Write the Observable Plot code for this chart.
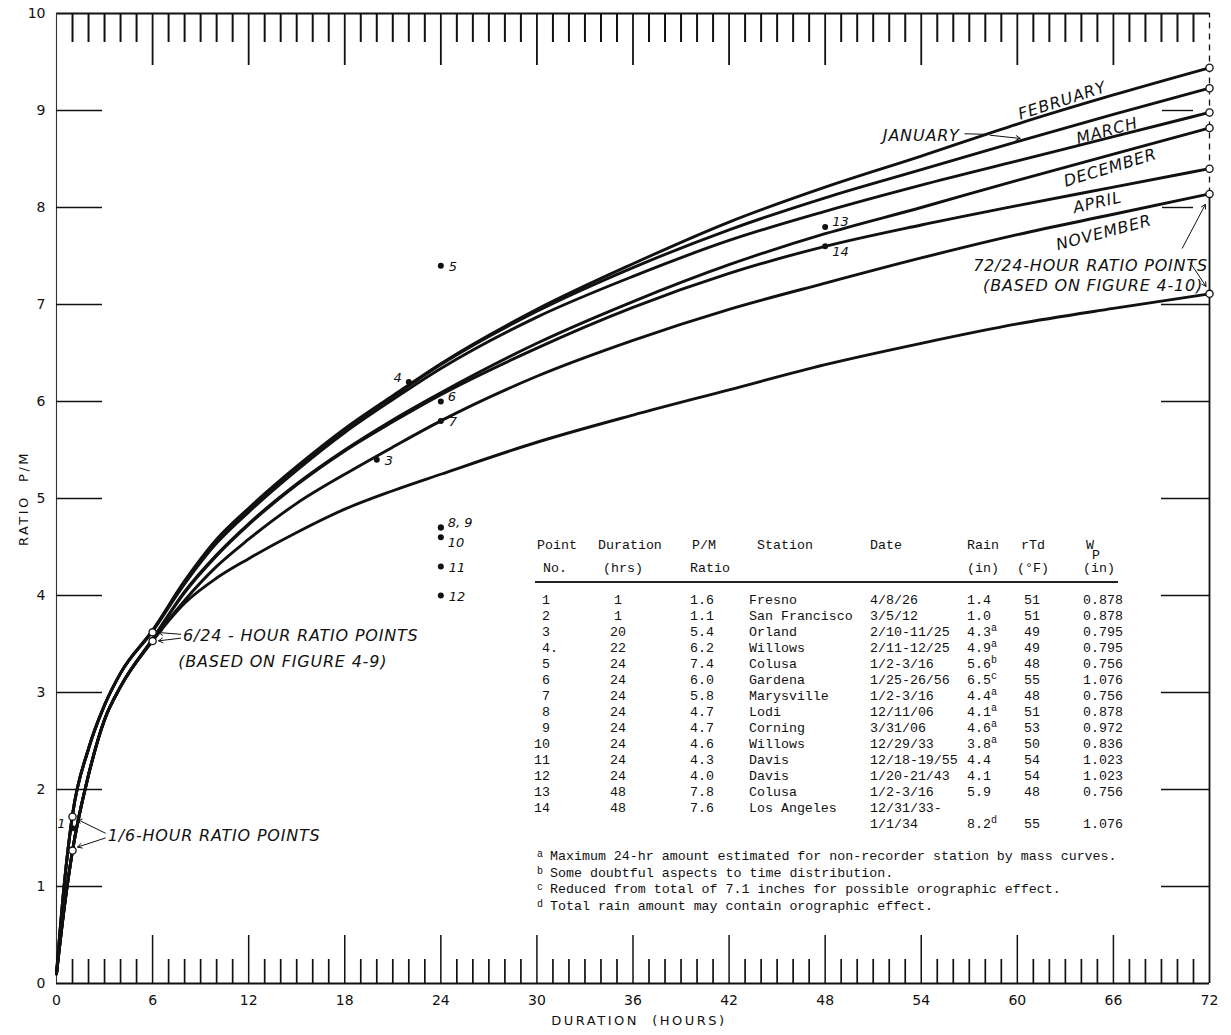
<!DOCTYPE html>
<html><head><meta charset="utf-8">
<script src="https://cdn.jsdelivr.net/npm/d3@7"></script>
<script src="https://cdn.jsdelivr.net/npm/@observablehq/plot@0.6"></script>
<style>
body{margin:0;background:#fff;}
#wrap{position:relative;width:1231px;height:1035px;overflow:hidden;}
.t{position:absolute;font-family:"Liberation Mono",monospace;font-size:13.3px;line-height:1;white-space:pre;color:#111;}
.sup{font-size:10px;position:relative;top:-5px;}
</style></head>
<body><div id="wrap"></div>
<script>
// ---------- data ----------
const hours = [0,0.5,1,2,3,4,6,8,10,12,15,18,21,24,30,36,42,48,54,60,66,72];
const curve1 = [0.1,1.05,1.74,2.42,2.87,3.2,3.64,4.15,4.58,4.9,5.33,5.72,6.06,6.39,6.95,7.42,7.85,8.21,8.53,8.86,9.16,9.44];
const curve2 = [0.1,1.05,1.74,2.42,2.87,3.2,3.64,4.14,4.57,4.89,5.32,5.71,6.05,6.38,6.93,7.38,7.77,8.10,8.39,8.68,8.96,9.23];
const curve3 = [0.1,1.05,1.74,2.42,2.87,3.2,3.63,4.12,4.54,4.86,5.29,5.68,6.02,6.34,6.87,7.29,7.66,7.96,8.23,8.48,8.73,8.98];
const curve4 = [0.1,0.8,1.37,2.15,2.72,3.06,3.55,4.04,4.42,4.74,5.15,5.50,5.81,6.09,6.6,7.03,7.41,7.73,8.0,8.28,8.55,8.82];
const curve5 = [0.1,0.8,1.37,2.15,2.72,3.06,3.55,4.03,4.41,4.73,5.14,5.49,5.79,6.07,6.55,6.97,7.32,7.6,7.82,8.02,8.21,8.40];
const curve6 = [0.1,0.8,1.37,2.15,2.72,3.06,3.54,3.95,4.3,4.58,4.95,5.25,5.53,5.8,6.26,6.63,6.95,7.22,7.48,7.72,7.93,8.14];
const curve7 = [0.1,0.8,1.37,2.15,2.72,3.06,3.53,3.92,4.18,4.38,4.65,4.89,5.08,5.25,5.58,5.86,6.12,6.38,6.6,6.8,6.96,7.11];
const curves = [curve1,curve2,curve3,curve4,curve5,curve6,curve7];

// open circles (ratio points)
const ratioPtHours = [72,72,72,72,72,72,72,6,6,1,1];
const ratioPtValues = [9.44,9.23,8.98,8.82,8.40,8.14,7.11,3.62,3.53,1.72,1.37];

// observed storms (table)
const pointNo   = ["1","2","3","4.","5","6","7","8","9","10","11","12","13","14"];
const duration  = [1,1,20,22,24,24,24,24,24,24,24,24,48,48];
const pmRatio   = ["1.6","1.1","5.4","6.2","7.4","6.0","5.8","4.7","4.7","4.6","4.3","4.0","7.8","7.6"];
const station   = ["Fresno","San Francisco","Orland","Willows","Colusa","Gardena","Marysville","Lodi","Corning","Willows","Davis","Davis","Colusa","Los Angeles"];
const dates     = ["4/8/26","3/5/12","2/10-11/25","2/11-12/25","1/2-3/16","1/25-26/56","1/2-3/16","12/11/06","3/31/06","12/29/33","12/18-19/55","1/20-21/43","1/2-3/16","12/31/33-"];
const rain      = ["1.4","1.0","4.3","4.9","5.6","6.5","4.4","4.1","4.6","3.8","4.4","4.1","5.9","8.2"];
const rainNote  = ["","","a","a","b","c","a","a","a","a","","","","d"];
const rTd       = ["51","51","49","49","48","55","48","51","53","50","54","54","48","55"];
const wp        = ["0.878","0.878","0.795","0.795","0.756","1.076","0.756","0.878","0.972","0.836","1.023","1.023","0.756","1.076"];
const plotLabels = ["1","","3","4","5","6","7","8, 9","","10","11","12","13","14"];
const footnotes = [
  ["a","Maximum 24-hr amount estimated for non-recorder station by mass curves."],
  ["b","Some doubtful aspects to time distribution."],
  ["c","Reduced from total of 7.1 inches for possible orographic effect."],
  ["d","Total rain amount may contain orographic effect."]
];

const xTickLabels = [0,6,12,18,24,30,36,42,48,54,60,66,72];
const yTickLabels = [0,1,2,3,4,5,6,7,8,9,10];

// curve annotations
const annotations = [
  {text:"FEBRUARY", hour:62.8, ratio:9.10, angle:-18},
  {text:"MARCH", hour:65.6, ratio:8.79, angle:-15},
  {text:"DECEMBER", hour:65.8, ratio:8.41, angle:-17},
  {text:"APRIL", hour:65.0, ratio:8.05, angle:-13},
  {text:"NOVEMBER", hour:65.4, ratio:7.74, angle:-15},
  {text:"JANUARY", hour:54.0, ratio:8.74, angle:0}
];
const notesEnd = [
  {text:"72/24-HOUR RATIO POINTS", hour:71.9, ratio:7.40},
  {text:"(BASED ON FIGURE 4-10)", hour:71.6, ratio:7.19}
];
const notesStart = [
  {text:"6/24 - HOUR RATIO POINTS", hour:7.9, ratio:3.58},
  {text:"(BASED ON FIGURE 4-9)", hour:7.6, ratio:3.32},
  {text:"1/6-HOUR RATIO POINTS", hour:3.2, ratio:1.52}
];
const arrows = [
  {x1:3.05,y1:1.55,x2:1.2,y2:1.70},
  {x1:3.05,y1:1.50,x2:1.2,y2:1.40},
  {x1:7.75,y1:3.60,x2:6.25,y2:3.62},
  {x1:7.75,y1:3.56,x2:6.25,y2:3.53},
  {x1:58.3,y1:8.745,x2:60.3,y2:8.71},
  {x1:70.3,y1:7.58,x2:71.8,y2:8.05},
  {x1:70.8,y1:7.43,x2:71.85,y2:7.17}
];
const leaders = [{x1:56.7,y1:8.76,x2:57.9,y2:8.755}];

// ---------- build ----------
const W = 1231, H = 1035, mL = 56, mR = 22, mT = 13, mB = 52;
const innerW = W - mL - mR, innerH = H - mT - mB;

const curveRows = [];
curves.forEach((vals, i) => vals.forEach((v, j) => curveRows.push({curve: i, hour: hours[j], ratio: v})));
const ratioPts = ratioPtHours.map((h, i) => ({hour: h, ratio: ratioPtValues[i]}));
const obs = pointNo.map((n, i) => ({no: n, hour: duration[i], ratio: +pmRatio[i], label: plotLabels[i]}))
  .filter(d => d.no !== "2");

const leftLab = ["1","4"], upLab = ["6","13","8, 9"], downLab = ["14","10"];
const rightLab = obs.filter(d => d.label && !leftLab.includes(d.label) && !upLab.includes(d.label) && !downLab.includes(d.label));

const allHours = d3.range(1, 72);
const majorHours = allHours.filter(h => h % 6 === 0);
const minorHours = allHours.filter(h => h % 6 !== 0);
const innerY = d3.range(1, 10);
const rightFull = innerY.filter(v => v < 8), rightShort = innerY.filter(v => v >= 8);
const xDomain = [0, 72], yDomain = [0, 10];
const solidRightTop = ratioPtValues[5];

const ink = "#111";
const plot = Plot.plot({
  width: W, height: H,
  marginLeft: mL, marginRight: mR, marginTop: mT, marginBottom: mB,
  style: {fontFamily: "DejaVu Sans, sans-serif", fontSize: "14px", color: ink, background: "white"},
  x: {domain: xDomain, ticks: xTickLabels, tickSize: 0, tickPadding: 12, label: null},
  y: {domain: yDomain, ticks: yTickLabels, tickSize: 0, tickPadding: 11, label: "RATIO  P/M", labelAnchor: "center", labelOffset: 38, labelArrow: false},
  marks: [
    // frame pieces
    Plot.ruleY([yDomain[1]], {stroke: ink, strokeWidth: 2}),
    Plot.ruleY([yDomain[0]], {stroke: ink, strokeWidth: 1.8}),
    Plot.ruleX([xDomain[0]], {stroke: "#333", strokeWidth: 1.1}),
    Plot.ruleX([xDomain[1]], {y1: yDomain[0], y2: solidRightTop, stroke: ink, strokeWidth: 1.8}),
    Plot.ruleX([xDomain[1]], {y1: solidRightTop, y2: yDomain[1], stroke: ink, strokeWidth: 1.3, strokeDasharray: "6,5"}),
    Plot.tickX(minorHours, {x: d => d, insetBottom: innerH - 29, stroke: ink, strokeWidth: 2}),
    Plot.tickX(majorHours, {x: d => d, insetBottom: innerH - 52, stroke: ink, strokeWidth: 1.8}),
    Plot.tickX(minorHours, {x: d => d, insetTop: innerH - 24, stroke: ink, strokeWidth: 1.7}),
    Plot.tickX(majorHours, {x: d => d, insetTop: innerH - 48, stroke: ink, strokeWidth: 1.5}),
    Plot.tickY(innerY, {y: d => d, insetRight: innerW - 46, stroke: ink, strokeWidth: 1.4}),
    Plot.tickY(rightFull, {y: d => d, insetLeft: innerW - 48, stroke: ink, strokeWidth: 1.4}),
    Plot.tickY(rightShort, {y: d => d, insetLeft: innerW - 47, insetRight: 16, stroke: ink, strokeWidth: 1.4}),
    Plot.line(curveRows, {x: "hour", y: "ratio", z: "curve", stroke: ink, strokeWidth: 2.9, curve: "monotone-x"}),
    Plot.link(leaders, {x1: "x1", y1: "y1", x2: "x2", y2: "y2", stroke: ink, strokeWidth: 1}),
    Plot.arrow(arrows, {x1: "x1", y1: "y1", x2: "x2", y2: "y2", stroke: ink, strokeWidth: 1, headLength: 7, insetEnd: 2}),
    Plot.dot(ratioPts, {x: "hour", y: "ratio", r: 3.6, fill: "white", stroke: ink, strokeWidth: 1.3}),
    Plot.dot(obs, {x: "hour", y: "ratio", r: 3, fill: ink}),
    Plot.text(rightLab, {x: "hour", y: "ratio", text: "label", dx: 8, dy: 1, textAnchor: "start", fontStyle: "italic", fontSize: 13, fill: ink}),
    Plot.text(obs.filter(d => upLab.includes(d.label)), {x: "hour", y: "ratio", text: "label", dx: 7, dy: -5, textAnchor: "start", fontStyle: "italic", fontSize: 13, fill: ink}),
    Plot.text(obs.filter(d => downLab.includes(d.label)), {x: "hour", y: "ratio", text: "label", dx: 7, dy: 6, textAnchor: "start", fontStyle: "italic", fontSize: 13, fill: ink}),
    Plot.text(obs.filter(d => leftLab.includes(d.label)), {x: "hour", y: "ratio", text: "label", dx: -7, dy: -4, textAnchor: "end", fontStyle: "italic", fontSize: 13, fill: ink}),
    Plot.text(annotations, {x: "hour", y: "ratio", text: "text", rotate: "angle", textAnchor: "middle", fontStyle: "italic", fontSize: 16, fill: ink}),
    Plot.text(notesEnd, {x: "hour", y: "ratio", text: "text", textAnchor: "end", fontStyle: "italic", fontSize: 16, fill: ink}),
    Plot.text(notesStart, {x: "hour", y: "ratio", text: "text", textAnchor: "start", fontStyle: "italic", fontSize: 16, fill: ink}),
    Plot.text(["DURATION  (HOURS)"], {frameAnchor: "bottom", dy: 41, dx: 6, text: d => d, fontSize: 13, fill: ink})
  ]
});
// letter spacing for the lettering-style annotations
plot.querySelectorAll('g[font-size="16"]').forEach(g => g.setAttribute("letter-spacing", "0.8"));
plot.querySelectorAll('g[font-size="13"]:not([font-style])').forEach(g => g.setAttribute("letter-spacing", "2.5"));
plot.querySelectorAll('g[aria-label="y-axis label"]').forEach(g => {
  g.setAttribute("letter-spacing", "2.5");
  g.setAttribute("font-size", "13");
});

const wrap = document.getElementById("wrap");
wrap.appendChild(plot);

// ---------- table overlay ----------
function cell(html, x, y, align) {
  const d = document.createElement("div");
  d.className = "t";
  d.innerHTML = html;
  d.style.left = x + "px";
  d.style.top = y + "px";
  const tx = align === "end" ? "-100%" : align === "middle" ? "-50%" : "0";
  d.style.transform = `translate(${tx},-50%)`;
  wrap.appendChild(d);
}
const headY1 = 546, headY2 = 569, row0 = 601, rowStep = 16;
const colNo = 550, colDur = 618, colPM = 690, colSt = 749, colDate = 870, colRain = 967, colTd = 1024, colWp = 1083;
cell("Point", 537, headY1); cell("No.", 543, headY2);
cell("Duration", 598, headY1); cell("(hrs)", 603, headY2);
cell("P/M", 692, headY1); cell("Ratio", 690, headY2);
cell("Station", 757, headY1);
cell("Date", colDate, headY1);
cell("Rain", colRain, headY1); cell("(in)", colRain, headY2);
cell("rTd", colTd - 3, headY1); cell("(°F)", colTd - 7, headY2);
cell("W", colWp + 3, headY1); cell("P", colWp + 9, headY1 + 10); cell("(in)", colWp, headY2);
const rule = document.createElement("div");
rule.style.cssText = "position:absolute;left:535px;top:581px;width:583px;height:1.6px;background:#222;";
wrap.appendChild(rule);

pointNo.forEach((n, i) => {
  const y = row0 + i * rowStep;
  const last = i === pointNo.length - 1;
  const yv = last ? y + rowStep : y;
  cell(n.replace(".", ""), colNo, y, "end");
  if (n.endsWith(".")) cell(".", colNo, y);
  cell(String(duration[i]), colDur, y, "middle");
  cell(pmRatio[i], colPM, y);
  cell(station[i], colSt, y);
  cell(dates[i], colDate, y);
  cell(rain[i] + (rainNote[i] ? `<span class="sup">${rainNote[i]}</span>` : ""), colRain, yv);
  cell(rTd[i], colTd, yv);
  cell(wp[i], colWp, yv);
});
cell("1/1/34", colDate, row0 + pointNo.length * rowStep);

footnotes.forEach(([k, txt], i) => {
  const y = 857 + i * 16.7;
  cell(`<span class="sup" style="top:-3px">${k}</span>`, 537, y);
  cell(txt, 550, y);
});
</script>
</body></html>
